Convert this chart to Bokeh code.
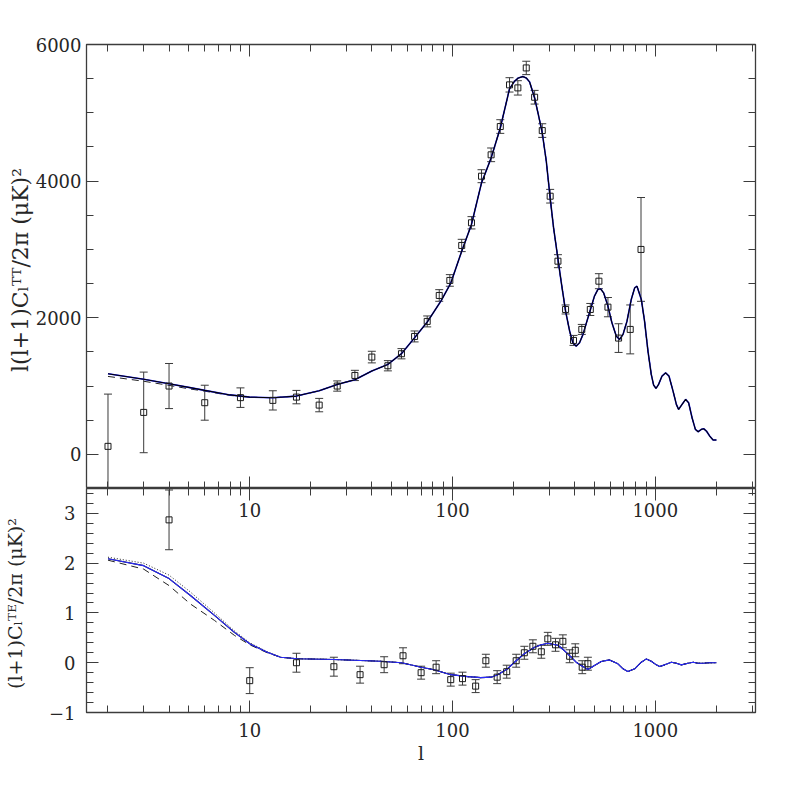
from bokeh.plotting import figure
from bokeh.models import (ColumnDataSource, Whisker, TeeHead, FixedTicker,
                          SingleIntervalTicker, LinearAxis, LogAxis,
                          NumeralTickFormatter, Range1d, Label)
from bokeh.layouts import column
from bokeh.embed import file_html
from bokeh.resources import INLINE

# ---------------- TT binned data ----------------
tt_l = [2, 3, 4, 6, 9, 13, 17, 22, 27, 33, 40, 48, 56, 65, 75, 86, 97, 111,
        124, 139, 155, 172, 191, 210, 231, 254, 277, 303, 331, 361, 395, 434,
        478, 527, 584, 659, 752, 850]
tt_c = [117, 614, 1000, 756, 830, 790, 838, 721, 1000, 1155, 1424, 1297, 1473,
        1726, 1946, 2326, 2546, 3058, 3390, 4072, 4385, 4799, 5409, 5365, 5657,
        5228, 4740, 3779, 2828, 2121, 1668, 1829, 2121, 2535, 2155, 1702, 1829,
        3000]
tt_err = [765, 590, 330, 256, 143, 141, 98, 98, 75, 75, 85, 75, 75, 80, 80, 85,
          85, 90, 90, 95, 100, 100, 105, 105, 98, 100, 100, 100, 95, 66, 73,
          73, 88, 110, 141, 210, 358, 760]

# ---------------- TT model curves ----------------
tt_model_l = [2, 3, 4, 5, 6, 8, 10, 13, 17, 22, 27, 33, 40, 48, 56, 65, 75, 88,
              98, 111, 124, 139, 155, 172, 191, 202, 211, 222, 231, 240, 254,
              265, 277, 290, 303, 315, 327, 343, 361, 378, 392, 407, 423, 440,
              460, 479, 501, 521, 537, 556, 584, 611, 642, 666, 693, 725, 761,
              791, 812, 853, 885, 920, 955, 981, 1008, 1038, 1079, 1124, 1168,
              1223, 1270, 1303, 1355, 1411, 1460, 1518, 1576, 1626, 1687, 1732,
              1786, 1854, 1928, 2000]
tt_model_c = [1180, 1100, 1034, 980, 936, 870, 838, 829, 853, 930, 1024, 1093,
              1220, 1317, 1473, 1707, 1936, 2253, 2506, 2974, 3365, 3974, 4339,
              4778, 5350, 5461, 5510, 5530, 5510, 5451, 5217, 4974, 4705, 4291,
              3754, 3315, 2974, 2535, 2096, 1804, 1633, 1584, 1633, 1756, 1950,
              2121, 2316, 2414, 2423, 2364, 2170, 1925, 1731, 1682, 1756, 1950,
              2268, 2437, 2462, 2268, 1950, 1511, 1170, 1014, 965, 1024, 1146,
              1194, 1146, 926, 731, 658, 731, 805, 755, 535, 366, 331, 366, 375,
              341, 268, 209, 210]
tt_dash_low_l = [2, 3, 4, 5, 6, 8]
tt_dash_low_c = [1141, 1070, 1010, 960, 925, 862]

# ---------------- TE binned data ----------------
te_l = [4, 10, 17, 26, 35, 46, 57, 70, 83, 98, 112, 130, 146, 166, 185, 206,
        226, 249, 274, 295, 322, 350, 378, 403, 436, 465]
te_c = [2.87, -0.36, 0.0, -0.08, -0.24, -0.04, 0.14, -0.20, -0.09, -0.34,
        -0.32, -0.47, 0.04, -0.29, -0.18, 0.04, 0.20, 0.33, 0.22, 0.48, 0.36,
        0.43, 0.13, 0.25, -0.09, -0.02]
te_err = [0.6, 0.26, 0.19, 0.19, 0.17, 0.16, 0.16, 0.13, 0.13, 0.13, 0.13,
          0.13, 0.13, 0.13, 0.13, 0.13, 0.13, 0.13, 0.13, 0.13, 0.13, 0.13,
          0.13, 0.13, 0.13, 0.13]

# ---------------- TE model curves ----------------
te_model_l = [2, 3, 4, 5.1, 6.7, 8.4, 10, 12.2, 14.2, 17.2, 26, 44, 56, 62,
              70, 81, 98, 119, 138, 155, 167, 187, 206, 226, 254, 274, 295,
              331, 356, 385, 407, 431, 465, 501, 541, 594, 654, 693, 732, 791,
              853, 903, 955, 1012, 1050, 1112, 1199, 1270, 1343, 1450, 1535,
              1626, 1720, 1850, 2000]
te_model_c = [2.09, 1.95, 1.69, 1.35, 0.95, 0.61, 0.38, 0.21, 0.11, 0.08,
              0.065, 0.03, 0.0, -0.04, -0.09, -0.14, -0.24, -0.28, -0.30,
              -0.29, -0.24, -0.12, 0.04, 0.18, 0.31, 0.36, 0.39, 0.35, 0.245,
              0.11, 0.01, -0.056, -0.137, -0.056, 0.024, 0.057, -0.023, -0.123,
              -0.177, -0.123, 0.01, 0.077, 0.03, -0.043, -0.077, -0.043, 0.01,
              -0.01, -0.043, -0.01, 0.01, -0.01, -0.01, 0.0, 0.0]
te_dot_low_l = [2, 3, 4, 5.1, 6.7, 8.4, 10, 12.2, 14.2]
te_dot_low_c = [2.12, 2.0, 1.76, 1.42, 1.0, 0.64, 0.40, 0.22, 0.11]
te_dash_low_l = [2, 3, 4, 5.1, 6.7, 8.4, 10, 12.2, 14.2]
te_dash_low_c = [2.06, 1.88, 1.55, 1.18, 0.85, 0.55, 0.36, 0.20, 0.11]

x_major = [10, 100, 1000]
x_major_labels = ["10", "100", "1000"]
x_minor = [m * d for d in (1, 10, 100) for m in range(2, 10)] + [2000, 3000]

FONT = "DejaVu Serif"
AX = "#3c3c3c"
TXT = "#262626"


def style(ax, labels=True, standoff=6, size="18px"):
    ax.major_tick_in = 12
    ax.major_tick_out = 0
    ax.minor_tick_in = 7
    ax.minor_tick_out = 0
    ax.major_tick_line_color = AX
    ax.minor_tick_line_color = AX
    ax.major_tick_line_width = 1
    ax.minor_tick_line_width = 1
    ax.axis_line_color = None
    ax.major_label_text_font = FONT
    ax.major_label_text_color = TXT
    ax.axis_label_text_font = FONT
    ax.axis_label_text_font_style = "normal"
    ax.axis_label_text_color = TXT
    ax.major_label_standoff = standoff
    if labels:
        ax.major_label_text_font_size = size
    else:
        ax.major_label_text_font_size = "1px"
        ax.major_label_text_color = None
        ax.major_label_standoff = 0


def xtick():
    return FixedTicker(ticks=x_major, minor_ticks=x_minor)


# ================= top panel =================
top = figure(frame_width=669, frame_height=444, x_axis_type="log",
             x_range=Range1d(1.567, 3119), y_range=Range1d(-500, 6000),
             output_backend="svg", toolbar_location=None,
             min_border_left=78, min_border_right=30, min_border_top=44,
             min_border_bottom=0, background_fill_color="white",
             border_fill_color="white")
top.grid.visible = False
top.outline_line_color = AX
top.outline_line_width = 1.3

top.xaxis.ticker = xtick()
style(top.xaxis[0], labels=False)
top.yaxis.ticker = SingleIntervalTicker(interval=2000, num_minor_ticks=4)
style(top.yaxis[0], labels=True, standoff=5)
top.yaxis.axis_label = "l(l+1)C\u2097\u1d40\u1d40/2\u03c0  (\u03bcK)\u00b2"
top.yaxis.axis_label_text_font_size = "22px"
top.yaxis.axis_label_standoff = 0

ax_top = LogAxis(ticker=xtick())
style(ax_top, labels=False)
top.add_layout(ax_top, "above")
ax_r = LinearAxis(ticker=SingleIntervalTicker(interval=2000, num_minor_ticks=4))
style(ax_r, labels=False)
top.add_layout(ax_r, "right")

tt_src = ColumnDataSource(dict(l=tt_l, c=tt_c,
                               lo=[c - e for c, e in zip(tt_c, tt_err)],
                               hi=[c + e for c, e in zip(tt_c, tt_err)]))
top.add_layout(Whisker(source=tt_src, base="l", lower="lo", upper="hi",
                       dimension="height", line_color="#3a3a3a", line_width=1,
                       upper_head=TeeHead(size=8, line_color="#3a3a3a", line_width=1),
                       lower_head=TeeHead(size=8, line_color="#3a3a3a", line_width=1)))

tt_dash_l = tt_dash_low_l + [v for v in tt_model_l if v > tt_dash_low_l[-1]]
tt_dash_c = tt_dash_low_c + [c for v, c in zip(tt_model_l, tt_model_c)
                             if v > tt_dash_low_l[-1]]
top.line(tt_dash_l, tt_dash_c, line_color="#222222", line_width=1,
         line_dash="7 5")
top.line(tt_model_l, tt_model_c, line_color="#2020ff", line_width=1.6)
top.line(tt_model_l, tt_model_c, line_color="black", line_width=1.1)
top.scatter("l", "c", source=tt_src, marker="square", size=6,
            fill_color=None, line_color="#1a1a1a", line_width=1)

# ================= bottom panel =================
bot = figure(frame_width=669, frame_height=224, x_axis_type="log",
             x_range=top.x_range, y_range=Range1d(-1, 3.5),
             output_backend="svg", toolbar_location=None,
             min_border_left=78, min_border_right=30, min_border_top=0,
             min_border_bottom=20, background_fill_color="white",
             border_fill_color="white")
bot.grid.visible = False
bot.outline_line_color = AX
bot.outline_line_width = 1.3

bot.xaxis.ticker = xtick()
bot.xaxis.formatter = NumeralTickFormatter(format="0")
style(bot.xaxis[0], labels=True, standoff=10)
bot.xaxis.axis_label = "l"
bot.xaxis.axis_label_text_font_size = "19px"
bot.xaxis.axis_label_standoff = 2

bot.yaxis.ticker = SingleIntervalTicker(interval=1, num_minor_ticks=5)
style(bot.yaxis[0], labels=True, standoff=11)
bot.yaxis.major_label_overrides = {-1: "\u22121"}
bot.yaxis.axis_label = "(l+1)C\u2097\u1d40\u1d31/2\u03c0  (\u03bcK)\u00b2"
bot.yaxis.axis_label_text_font_size = "19px"
bot.yaxis.axis_label_standoff = 20

ax_top2 = LogAxis(ticker=xtick())
style(ax_top2, labels=False)
bot.add_layout(ax_top2, "above")
ax_r2 = LinearAxis(ticker=SingleIntervalTicker(interval=1, num_minor_ticks=5))
style(ax_r2, labels=False)
bot.add_layout(ax_r2, "right")

# tick labels of the upper panel's x axis, drawn just under the shared edge
yr = bot.y_range
lab_y = yr.end - 21 * (yr.end - yr.start) / 224
for xv, txt in zip(x_major, x_major_labels):
    bot.add_layout(Label(x=xv, y=lab_y, text=txt, text_font=FONT,
                         text_font_size="18px", text_color=TXT,
                         text_align="center", text_baseline="middle"))

te_src = ColumnDataSource(dict(l=te_l, c=te_c,
                               lo=[c - e for c, e in zip(te_c, te_err)],
                               hi=[c + e for c, e in zip(te_c, te_err)]))
bot.add_layout(Whisker(source=te_src, base="l", lower="lo", upper="hi",
                       dimension="height", line_color="#3a3a3a", line_width=1,
                       upper_head=TeeHead(size=8, line_color="#3a3a3a", line_width=1),
                       lower_head=TeeHead(size=8, line_color="#3a3a3a", line_width=1)))

cut = te_dot_low_l[-1]
te_dot_l = te_dot_low_l + [v for v in te_model_l if v > cut]
te_dot_c = te_dot_low_c + [c for v, c in zip(te_model_l, te_model_c) if v > cut]
te_dash_l = te_dash_low_l + [v for v in te_model_l if v > cut]
te_dash_c = te_dash_low_c + [c for v, c in zip(te_model_l, te_model_c) if v > cut]

bot.line(te_dash_l, te_dash_c, line_color="#222222", line_width=1,
         line_dash="7 5")
bot.line(te_dot_l, te_dot_c, line_color="#222222", line_width=1,
         line_dash="1 2")
bot.line(te_model_l, te_model_c, line_color="black", line_width=1.1)
bot.line(te_model_l, te_model_c, line_color="#2a2aff", line_width=1.1)
bot.scatter("l", "c", source=te_src, marker="square", size=6,
            fill_color=None, line_color="#1a1a1a", line_width=1)

layout = column(top, bot, spacing=0)
open("out.html", "w").write(file_html(layout, INLINE))
